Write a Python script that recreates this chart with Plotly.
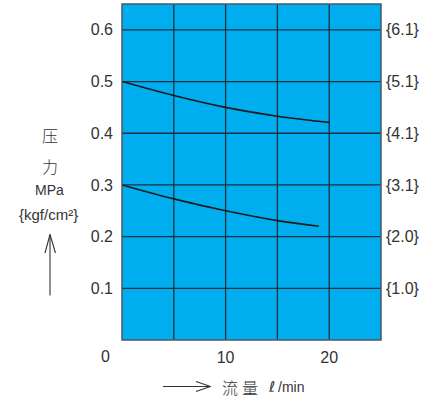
import plotly.graph_objects as go

# Data
flow_upper = [0, 5, 10, 15, 20]
pressure_upper = [0.500, 0.473, 0.450, 0.433, 0.421]
flow_lower = [0, 5, 10, 15, 19]
pressure_lower = [0.300, 0.273, 0.250, 0.231, 0.220]

x_tickvals = [10, 20]
x_ticktext = ["10", "20"]
y_tickvals = [0.1, 0.2, 0.3, 0.4, 0.5, 0.6]
y_ticktext = ["0.1", "0.2", "0.3", "0.4", "0.5", "0.6"]
kgf_ticktext = ["{1.0}", "{2.0}", "{3.1}", "{4.1}", "{5.1}", "{6.1}"]

W, H = 435, 401
L, R, T, B = 122, 54, 4, 61
pw, ph = W - L - R, H - T - B

def px(x):
    return (x - L) / pw

def py(y):
    return (H - B - y) / ph

FONT = "Liberation Sans"
CJK = "Noto Sans CJK SC"
TXT = "#333333"
GRID = "#1b3140"
TS = 16

fig = go.Figure()
fig.add_trace(go.Scatter(x=flow_upper, y=pressure_upper, mode="lines",
                         line=dict(color="#1a1a1a", width=1.6, shape="spline"),
                         showlegend=False, hoverinfo="skip"))
fig.add_trace(go.Scatter(x=flow_lower, y=pressure_lower, mode="lines",
                         line=dict(color="#1a1a1a", width=1.6, shape="spline"),
                         showlegend=False, hoverinfo="skip"))
# invisible trace for right axis
fig.add_trace(go.Scatter(x=[0], y=[0], yaxis="y2", mode="markers",
                         marker=dict(opacity=0), showlegend=False, hoverinfo="skip"))

fig.update_layout(
    width=W, height=H,
    margin=dict(l=L, r=R, t=T, b=B),
    paper_bgcolor="white",
    plot_bgcolor="#00AEEF",
    font=dict(family=FONT, size=TS, color=TXT),
    xaxis=dict(range=[0, 25], tickvals=x_tickvals, ticktext=x_ticktext,
               showgrid=False, zeroline=False, showline=False,
               ticks="", ticklabelstandoff=6, tickfont=dict(size=TS, color=TXT),
               fixedrange=True),
    yaxis=dict(range=[0, 0.65], tickvals=y_tickvals, ticktext=y_ticktext,
               showgrid=False, zeroline=False, showline=False,
               ticks="", ticklabelstandoff=8, tickfont=dict(size=TS, color=TXT),
               fixedrange=True),
    yaxis2=dict(range=[0, 0.65], tickvals=y_tickvals, ticktext=kgf_ticktext,
                overlaying="y", side="right", showgrid=False, zeroline=False,
                showline=False, ticks="", ticklabelstandoff=4,
                tickfont=dict(size=TS, color=TXT), fixedrange=True),
)

shapes = []
# grid lines (data coords)
for xv in [5, 10, 15, 20]:
    shapes.append(dict(type="line", xref="x", yref="paper", x0=xv, x1=xv, y0=0, y1=1,
                       line=dict(color=GRID, width=1.3), layer="below"))
for yv in y_tickvals:
    shapes.append(dict(type="line", xref="paper", yref="y", x0=0, x1=1, y0=yv, y1=yv,
                       line=dict(color=GRID, width=1.3), layer="below"))
# plot border
shapes.append(dict(type="rect", xref="paper", yref="paper", x0=0, x1=1, y0=0, y1=1,
                   line=dict(color="#4a5a64", width=1.5), layer="above"))
# vertical arrow
ac = "#333333"
shapes.append(dict(type="line", xref="paper", yref="paper", x0=px(50), x1=px(50),
                   y0=py(295.5), y1=py(234.5), line=dict(color=ac, width=1.1)))
shapes.append(dict(type="line", xref="paper", yref="paper", x0=px(45), x1=px(50),
                   y0=py(253), y1=py(234.5), line=dict(color=ac, width=1.1)))
shapes.append(dict(type="line", xref="paper", yref="paper", x0=px(55.5), x1=px(50),
                   y0=py(253), y1=py(234.5), line=dict(color=ac, width=1.1)))
# horizontal arrow
shapes.append(dict(type="line", xref="paper", yref="paper", x0=px(163), x1=px(210.5),
                   y0=py(386.5), y1=py(386.5), line=dict(color=ac, width=1.1)))
shapes.append(dict(type="line", xref="paper", yref="paper", x0=px(196), x1=px(210.5),
                   y0=py(381.5), y1=py(386.5), line=dict(color=ac, width=1.1)))
shapes.append(dict(type="line", xref="paper", yref="paper", x0=px(196), x1=px(210.5),
                   y0=py(391.5), y1=py(386.5), line=dict(color=ac, width=1.1)))
fig.update_layout(shapes=shapes)

def ann(text, x, y, size, family=FONT, xanchor="center", weight="normal"):
    return dict(text=text, xref="paper", yref="paper", x=px(x), y=py(y),
                xanchor=xanchor, yanchor="middle", showarrow=False,
                font=dict(size=size, family=family, color=TXT, weight=weight))

annotations = [
    ann("0", 105, 356, TS),
    ann("压", 50, 135, 16, CJK, weight=300),
    ann("力", 50, 166.5, 16, CJK, weight=300),
    ann("MPa", 49, 190, 14),
    ann("{kgf/cm²}", 48, 214, 15),
    ann("流", 230, 387, 16, CJK, weight=300),
    ann("量", 250, 387, 16, CJK, weight=300),
    ann("ℓ", 271.5, 387, 15, "DejaVu Sans"),
    ann("/min", 276, 387, 14, FONT, "left"),
]
fig.update_layout(annotations=annotations)

fig.write_html("out.html", config={"displayModeBar": False},
               post_script="document.body.style.margin='0';document.body.style.overflow='hidden';")
